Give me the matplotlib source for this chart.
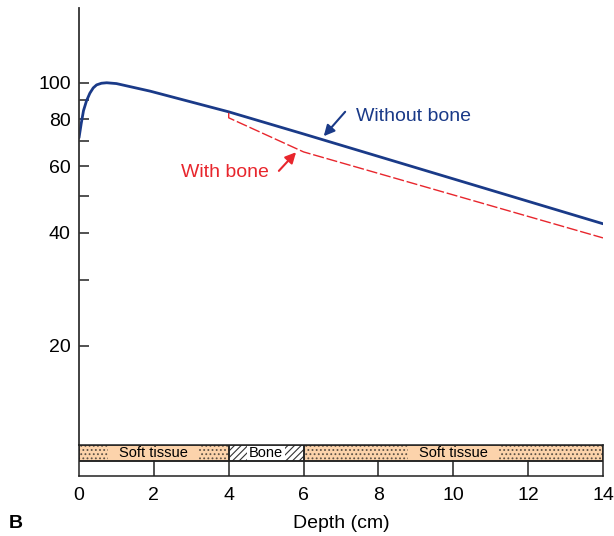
import matplotlib
matplotlib.use("Agg")
import matplotlib.pyplot as plt
from matplotlib.patches import Rectangle
from matplotlib.ticker import FixedLocator, NullFormatter

plt.rcParams['font.family'] = ['Liberation Sans', 'DejaVu Sans']
plt.rcParams['hatch.linewidth'] = 0.8

# depth-dose data
depth_no_bone = [0, 0.06, 0.12, 0.2, 0.29, 0.38, 0.47, 0.6, 0.74, 1.0, 1.9, 4, 6, 14]
dose_no_bone = [71.4, 78.0, 84.3, 89.5, 93.8, 96.9, 98.7, 99.7, 100, 99.5, 95.0, 83.7, 73.1, 42.2]
depth_bone = [4, 4, 6, 14]
dose_bone = [83.2, 80.7, 65.5, 38.7]

y_major = [20, 40, 60, 80, 100]
y_minor = [30, 50, 70, 90]
x_ticks = [0, 2, 4, 6, 8, 10, 12, 14]

# layers: (start, end, label, label position)
layers = [(0, 4, "Soft tissue", 2), (4, 6, "Bone", 5), (6, 14, "Soft tissue", 10)]

navy = "#1a3a88"
red = "#e8262d"
peach = "#fcd3ab"

W, H = 614, 536
fig = plt.figure(figsize=(W / 100, H / 100), dpi=100)
ax = fig.add_axes([79 / W, 1 - 445 / H, 524 / W, 437 / H])
band = fig.add_axes([79 / W, 1 - 476 / H, 524 / W, 31 / H])

ax.plot(depth_no_bone, dose_no_bone, color=navy, lw=2.0, solid_capstyle='round',
        solid_joinstyle='round')
ax.plot(depth_bone, dose_bone, color=red, lw=1.0, dashes=(8, 2))

ax.set_yscale('log')
ax.set_ylim(10.9, 158)
ax.set_xlim(0, 14)
ax.yaxis.set_major_locator(FixedLocator(y_major))
ax.yaxis.set_minor_locator(FixedLocator(y_minor))
ax.yaxis.set_minor_formatter(NullFormatter())
ax.set_yticklabels([str(v) for v in y_major])
ax.tick_params(axis='y', which='both', direction='in', length=7, width=1.2,
               color='#333333', labelsize=14, pad=6)
ax.set_xticks([])
for s in ['top', 'right', 'bottom']:
    ax.spines[s].set_visible(False)
ax.spines['left'].set_color('#333333')
ax.spines['left'].set_linewidth(1.3)

# labels with arrows
ax.text(7.4, 81.2, "Without bone", color=navy, fontsize=14, va='center', ha='left')
ax.annotate('', xy=(6.49, 71.2), xytext=(7.16, 84.8),
            arrowprops=dict(arrowstyle='-|>', color=navy, lw=1.5, mutation_scale=16))
ax.text(5.08, 57.6, "With bone", color=red, fontsize=14, va='center', ha='right')
ax.annotate('', xy=(5.85, 66.2), xytext=(5.29, 57.6),
            arrowprops=dict(arrowstyle='-|>', color=red, lw=1.5, mutation_scale=16))

# tissue band
band.set_xlim(0, 14)
band.set_ylim(0, 1)
labels = []
for x0, x1, name, xc in layers:
    if name == "Bone":
        band.add_patch(Rectangle((x0, 0.5), x1 - x0, 0.5, facecolor='white',
                                 edgecolor='#333333', hatch='/////', lw=0, zorder=1))
        bg, margin = 'white', 2
    else:
        band.add_patch(Rectangle((x0, 0.5), x1 - x0, 0.5, facecolor=peach,
                                 edgecolor='none', zorder=1))
        band.add_patch(Rectangle((x0, 0.5), x1 - x0, 0.5, facecolor='none',
                                 edgecolor='#5e5246', hatch='....', lw=0, zorder=2))
        bg, margin = peach, 11
    t = band.text(xc, 0.75, name, fontsize=10.5, ha='center', va='center', zorder=4)
    labels.append((t, bg, margin))
    band.add_patch(Rectangle((x0, 0.5), x1 - x0, 0.5, fill=False,
                             edgecolor='#222222', lw=1.1, zorder=5))

# plain background behind each layer name, sized from the text itself
fig.canvas.draw()
inv = band.transData.inverted()
for t, bg, margin in labels:
    ext = t.get_window_extent()
    (xa, _), (xb, _) = inv.transform([(ext.x0 - margin, 0), (ext.x1 + margin, 0)])
    band.add_patch(Rectangle((xa, 0.5), xb - xa, 0.5, facecolor=bg, edgecolor='none', zorder=3))

for x in x_ticks[1:-1]:
    band.plot([x, x], [0, 0.5], color='#222222', lw=1.1, zorder=5)
band.axhline(0.5, color='#222222', lw=1.1, zorder=5)
for s in band.spines.values():
    s.set_color('#222222')
    s.set_linewidth(1.1)
    s.set_zorder(6)
band.set_yticks([])
band.set_xticks(x_ticks)
band.tick_params(axis='x', length=0, labelsize=14, pad=8)
band.set_xlabel("Depth (cm)", fontsize=14, labelpad=8)

fig.text(9 / W, 1 - 524 / H, "B", fontsize=14, fontweight='bold', va='center', ha='left')

fig.savefig("out.png", dpi=100)
